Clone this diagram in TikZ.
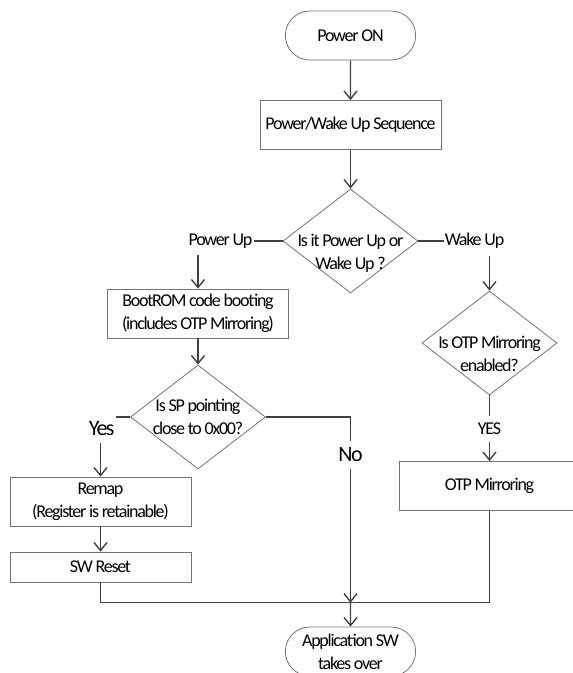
\documentclass[tikz,border=0pt]{standalone}
\usepackage{fontspec}
\setmainfont{Carlito}[LetterSpace=-7]
\usetikzlibrary{shapes.geometric,shapes.misc,arrows.meta,positioning}

\begin{document}
\begin{tikzpicture}[x=1pt, y=-1pt, node distance=100pt,
  >={Straight Barb[length=8pt,width=13pt]},
  txt/.style={font=\fontsize{18}{23}\selectfont, align=center},
  term/.style={txt, rounded rectangle, draw=black!55, line width=0.8pt,
    minimum width=137pt, minimum height=49pt},
  proc/.style={txt, rectangle, draw=black!55, line width=0.8pt,
    minimum width=181pt, minimum height=49pt},
  dec/.style={diamond, draw=black!55, line width=0.8pt,
    minimum width=135pt, minimum height=104pt, inner sep=0pt},
  choice/.style={txt, inner xsep=1pt, inner ysep=7pt},
  bigchoice/.style={choice, font=\fontsize{22}{25}\selectfont},
  flow/.style={draw=black!75, line width=1.4pt}]
  \path[use as bounding box] (0,0) rectangle (573,673);

  \node[term] (on) at (350.5,35.5) {Power ON};
  \node[proc, node distance=89.5pt, below of=on] (seq) {Power/Wake Up Sequence};
  \node[dec, node distance=116pt, below of=seq,
    label={[txt, name=modetxt, yshift=-12pt]center:Is it Power Up or\\Wake Up ?}] (mode) {};
  \node[choice, node distance=130pt, left of=mode] (pu) {Power Up};
  \node[choice, node distance=124pt, right of=mode] (wu) {Wake Up};

  \node[proc] (boot) at (198,313.5) {BootROM code booting\\(includes OTP Mirroring)};
  \node[dec, node distance=103.5pt, below of=boot,
    label={[txt, name=sptxt]center:Is SP pointing\\close to 0x00?}] (spq) {};
  \node[bigchoice] (yes) at (101.7,429) {Yes};
  \node[proc] (remap) at (100.5,501.5) {Remap\\(Register is retainable)};
  \node[proc, minimum height=30pt, node distance=65.5pt, below of=remap] (swr) {SW Reset};
  \node[bigchoice] (no) at (350.5,455) {No};

  \node[dec, label={[txt, name=otptxt, yshift=-11pt]center:Is OTP Mirroring\\enabled?}] (otpq) at (489.5,343) {};
  \node[choice, node distance=86pt, below of=otpq] (yes2) {YES};
  \node[proc, node distance=57pt, below of=yes2] (otpm) {OTP Mirroring};

  \node[term] (app) at (350.5,651.5) {Application SW\\takes over};
  \coordinate (join) at (350.5,602.7);

  \draw[flow, ->] (on) -- (seq);
  \draw[flow, ->] (seq) -- (mode);
  \draw[flow] (mode.west) -- (pu.east);
  \draw[flow] (mode.east) -- (wu.west);
  \draw[flow, ->] (pu.south -| boot.north) -- (boot.north);
  \draw[flow, ->] (wu.south -| otpq.north) -- (otpq.north);

  \draw[flow, ->] (boot) -- (spq);
  \draw[flow] (spq.west) -- (spq.west -| yes.east);
  \draw[flow, ->] (remap.north |- yes.south) -- (remap.north);
  \draw[flow, ->] (remap) -- (swr);
  \draw[flow] (spq.east) -- (spq.east -| no.north) -- (no.north);
  \draw[flow, ->] (no.south) -- (no.south |- join);

  \draw[flow] (otpq.south) -- (yes2.north);
  \draw[flow, ->] (yes2.south) -- (otpm.north);

  \draw[flow] (swr.south) -- (swr.south |- join) -- (otpm.south |- join) -- (otpm.south);
  \draw[flow, ->] (join) -- (app);
\end{tikzpicture}
\end{document}
